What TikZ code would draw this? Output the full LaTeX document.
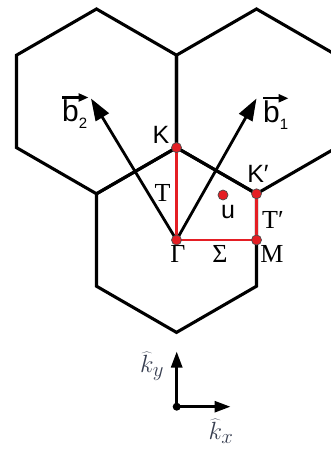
\documentclass[tikz,border=0pt]{standalone}
\usepackage{fontspec}
\setmainfont{Liberation Serif}
\setsansfont{Liberation Sans}
\usetikzlibrary{arrows.meta}
\definecolor{bzred}{RGB}{228,30,36}
\definecolor{axgray}{RGB}{55,62,80}
\begin{document}
\begin{tikzpicture}[x=1pt,y=-1pt,
  hexline/.style={line width=3.1pt,line join=miter},
  recvec/.style={line width=2.8pt,-{Triangle[length=22pt,width=15pt]}},
  pathred/.style={bzred,line width=2.7pt},
  kpt/.style={circle,fill=bzred,draw=black!70,line width=0.7pt,inner sep=0pt,minimum size=10pt},
  sflab/.style={font=\sffamily\fontsize{25}{28}\selectfont,inner sep=0pt},
  rmlab/.style={font=\fontsize{26}{28}\selectfont,inner sep=0pt},
  veclab/.style={font=\sffamily\fontsize{30}{32}\selectfont,inner sep=0pt,anchor=base west},
  vecbar/.style={line width=2.4pt,-{Triangle[length=10pt,width=8pt]}},
  axis/.style={line width=2.8pt,-{Triangle[length=16pt,width=11pt]}},
  klab/.style={axgray,font=\fontsize{24.88}{28}\selectfont,inner sep=0pt}]
\useasboundingbox (0,0) rectangle (331,449); \clip (0,0) rectangle (331,449);
\foreach \cx/\cy in {176.5/240,96.5/101.4,256.5/101.4}
  \draw[hexline] (\cx,\cy) +(90:92.4) -- +(30:92.4) -- +(-30:92.4) -- +(-90:92.4) -- +(-150:92.4) -- +(150:92.4) -- cycle;
\coordinate (G) at (176.5,240); \coordinate (K) at (176.5,147.6); \coordinate (Kp) at (256.5,193.8);
\coordinate (M) at (256.5,240); \coordinate (U) at (223,195);
\coordinate (b1tip) at (256.5,98.5); \coordinate (b2tip) at (91,98.5);
\draw[recvec] (G) -- (b1tip); \draw[recvec] (G) -- (b2tip);
\draw[pathred] (K) -- (G) -- (M) -- (Kp);
\foreach \p in {K,G,M,Kp,U} \node[kpt] (d\p) at (\p) {};
\node[sflab] (lK) at (161,135) {K}; \node[sflab] (lKp) at (258,174) {K′}; \node[sflab] (lu) at (228,212) {u};
\node[rmlab] (lT) at (162.5,193) {T}; \node[rmlab] (lTp) at (273,220) {T′};
\node[rmlab] (lG) at (178,254) {Γ}; \node[rmlab] (lS) at (220,254) {Σ}; \node[rmlab] (lM) at (272,254) {M};
\node[veclab] (lb2) at (62,122) {b\raisebox{-7pt}{\fontsize{15}{15}\selectfont 2}};
\node[veclab] (lb1) at (263,123) {b\raisebox{-7pt}{\fontsize{15}{15}\selectfont 1}};
\draw[vecbar] ([yshift=24.5pt]lb2.base west) -- ++(26.5,0); \draw[vecbar] ([yshift=24.7pt]lb1.base west) -- ++(25.5,0);
\coordinate (O) at (176.7,406.7); \coordinate (kytip) at (176.7,351.5); \coordinate (kxtip) at (230.5,406.7);
\draw[axis] (O) -- (kytip); \draw[axis] (O) -- (kxtip);
\node[circle,fill=black,inner sep=0pt,minimum size=8pt] (dO) at (O) {};
\node[klab] (lky) at (152,366) {$\widehat{k}_y$}; \node[klab] (lkx) at (221,431) {$\widehat{k}_x$};
\end{tikzpicture}
\end{document}
